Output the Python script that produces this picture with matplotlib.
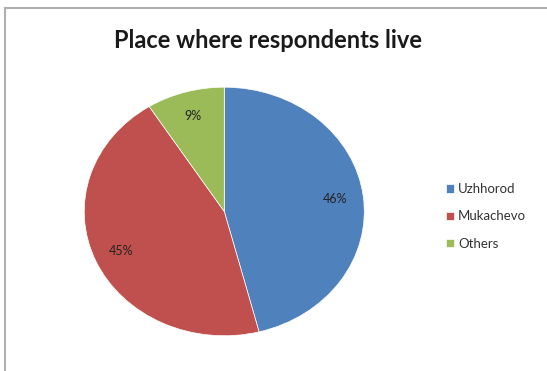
import matplotlib.pyplot as plt
from matplotlib.lines import Line2D

plt.rcParams['font.family'] = ['Lato', 'DejaVu Sans']

places = ['Uzhhorod', 'Mukachevo', 'Others']
shares = [46, 45, 9]
colors = ['#4F81BD', '#C0504D', '#9BBB59']

fig = plt.figure(figsize=(5.47, 3.71), dpi=100)
fig.patch.set_facecolor('white')

# chart frame (only left and top visible in the original)
fig.add_artist(Line2D([0.009, 0.009], [0.0, 0.978], color='#b0b0b0', lw=1.5))
fig.add_artist(Line2D([0.009, 1.0], [0.978, 0.978], color='#b0b0b0', lw=1.5))

fig.text(0.49, 0.89, 'Place where respondents live', ha='center', va='center',
         fontsize=17, fontweight='bold', color='#1a1a1a')

ax = fig.add_axes([0.154, 0.095, 0.512, 0.67])
wedges, texts, autotexts = ax.pie(
    shares, colors=colors, startangle=90, counterclock=False,
    autopct='%d%%', pctdistance=0.8,
    wedgeprops=dict(linewidth=0.5, edgecolor='white'),
    textprops=dict(fontsize=9, color='#222222'))
ax.set_aspect('auto')
ax.set_xlim(-1.0, 1.0)
ax.set_ylim(-1.0, 1.0)

ax.legend(wedges, places, loc='center left', bbox_to_anchor=(1.25, 0.48),
          frameon=False, fontsize=9.5, handlelength=0.6, handleheight=0.6,
          handletextpad=0.3, labelspacing=1.15, labelcolor='#333333')

fig.savefig('out.png', dpi=100)
